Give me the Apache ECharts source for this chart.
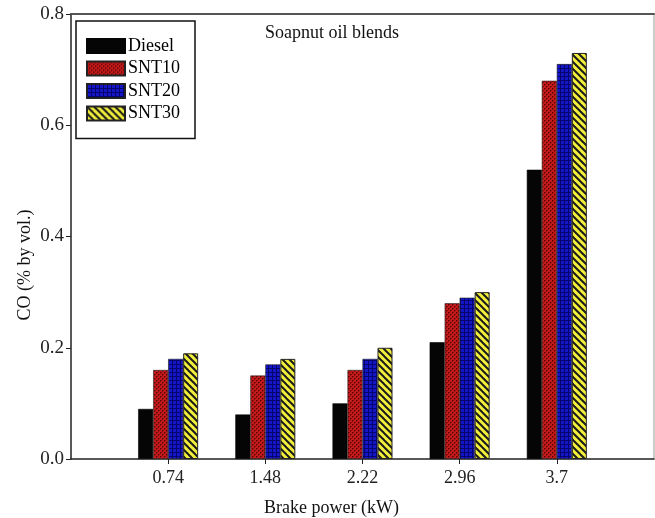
<!DOCTYPE html>
<html>
<head>
<meta charset="utf-8">
<script src="https://cdn.jsdelivr.net/npm/echarts@6/dist/echarts.min.js"></script>
<style>html,body{margin:0;padding:0;background:#fff}#c{width:655px;height:518px}</style>
</head>
<body>
<div id="c"></div>
<script>
// ---- data ----
var categories = ['0', '0.74', '1.48', '2.22', '2.96', '3.7', '4.44'];
var seriesNames = ['Diesel', 'SNT10', 'SNT20', 'SNT30'];
var diesel = [null, 0.09, 0.08, 0.10, 0.21, 0.52, null];
var snt10  = [null, 0.16, 0.15, 0.16, 0.28, 0.68, null];
var snt20  = [null, 0.18, 0.17, 0.18, 0.29, 0.71, null];
var snt30  = [null, 0.19, 0.18, 0.20, 0.30, 0.73, null];
var yTicks = [0, 0.2, 0.4, 0.6, 0.8];

function makeCanvas(w, h, draw) {
  var c = document.createElement('canvas');
  c.width = w; c.height = h;
  draw(c.getContext('2d'));
  return c;
}
var redPat = makeCanvas(4, 4, function (g) {
  g.fillStyle = '#c41a1a'; g.fillRect(0, 0, 4, 4);
  g.fillStyle = '#5a0505';
  g.fillRect(0, 0, 1, 1); g.fillRect(2, 2, 1, 1);
  g.fillStyle = '#8a0f0f';
  g.fillRect(1, 0, 1, 1); g.fillRect(0, 1, 1, 1); g.fillRect(3, 2, 1, 1); g.fillRect(2, 3, 1, 1);
});
var bluePat = makeCanvas(4, 4, function (g) {
  g.fillStyle = '#1414c8'; g.fillRect(0, 0, 4, 4);
  g.fillStyle = '#05056a';
  g.fillRect(0, 0, 1, 4); g.fillRect(0, 0, 4, 1);
});
var yellowPat = makeCanvas(7, 7, function (g) {
  g.fillStyle = '#f2ee3c'; g.fillRect(0, 0, 7, 7);
  g.strokeStyle = '#1a1a1a'; g.lineWidth = 2;
  for (var k = -7; k <= 7; k += 7) {
    g.beginPath(); g.moveTo(k - 1, -1); g.lineTo(k + 8, 8); g.stroke();
  }
});

var fills = [
  '#050505',
  { image: redPat, repeat: 'repeat' },
  { image: bluePat, repeat: 'repeat' },
  { image: yellowPat, repeat: 'repeat' }
];
var dataSets = [diesel, snt10, snt20, snt30];

var font = 'Liberation Serif, Times New Roman, serif';
var fs = 18;
var chart = echarts.init(document.getElementById('c'));
chart.setOption({
  animation: false,
  backgroundColor: '#fff',
  title: {
    text: 'Soapnut oil blends', left: 265, top: 24, padding: 0,
    textStyle: { fontFamily: font, fontSize: fs, fontWeight: 'normal', color: '#111' }
  },
  legend: {
    data: seriesNames, orient: 'vertical', left: 76, top: 21,
    icon: 'rect', itemWidth: 38, itemHeight: 14, itemGap: 4.5,
    padding: [16, 15, 16, 10],
    borderColor: '#111', borderWidth: 1.5,
    textStyle: { fontFamily: font, fontSize: fs, color: '#000', padding: [0, 0, 0, -2] }
  },
  grid: { left: 71, right: 1, top: 14, bottom: 59, containLabel: false, outerBoundsMode: 'none' },
  xAxis: [{
    type: 'category', data: categories, boundaryGap: false,
    name: 'Brake power (kW)', nameLocation: 'middle', nameGap: 40, nameMoveOverlap: false,
    nameTextStyle: { fontFamily: font, fontSize: fs, color: '#111', padding: [0, 62, 0, 0] },
    axisLine: { lineStyle: { color: '#222', width: 1.5 } },
    axisTick: { show: true, inside: false, length: 5, lineStyle: { color: '#222' },
      interval: function (i) { return i > 0 && i < categories.length - 1; } },
    axisLabel: { fontFamily: font, fontSize: fs, color: '#222', margin: 10,
      interval: 0,
      formatter: function (v, i) { return (i > 0 && i < categories.length - 1) ? v : ''; } },
    splitLine: { show: false }
  }, {
    type: 'category', data: categories, boundaryGap: false, position: 'top',
    axisLine: { show: true, onZero: false, lineStyle: { color: '#555', width: 2 } },
    axisTick: { show: false }, axisLabel: { show: false }, splitLine: { show: false }
  }],
  yAxis: [{
    type: 'value', min: 0, max: 0.8, interval: 0.2,
    name: 'CO (% by vol.)', nameLocation: 'middle', nameGap: 37, nameMoveOverlap: false,
    nameTextStyle: { fontFamily: font, fontSize: fs, color: '#111', padding: [0, 57, 0, 0] },
    axisLine: { show: true, lineStyle: { color: '#222', width: 1.5 } },
    axisTick: { show: true, inside: false, length: 5, lineStyle: { color: '#222' } },
    axisLabel: { fontFamily: font, fontSize: 19, color: '#222', margin: 7,
      formatter: function (v) { return yTicks.indexOf(Math.round(v * 10) / 10) >= 0 ? v.toFixed(1) : ''; } },
    splitLine: { show: false }
  }, {
    type: 'value', min: 0, max: 0.8, interval: 0.2, position: 'right',
    axisLine: { show: true, onZero: false, lineStyle: { color: '#bbb', width: 1.5 } },
    axisTick: { show: false }, axisLabel: { show: false }, splitLine: { show: false }
  }],
  series: seriesNames.map(function (n, i) {
    return {
      name: n, type: 'bar', data: dataSets[i], barWidth: 15, barGap: '0%',
      xAxisIndex: 0, yAxisIndex: 0,
      itemStyle: { color: fills[i], borderColor: i === 0 ? '#050505' : '#222', borderWidth: i === 3 ? 1 : 0.6 }
    };
  })
});
</script>
</body>
</html>
